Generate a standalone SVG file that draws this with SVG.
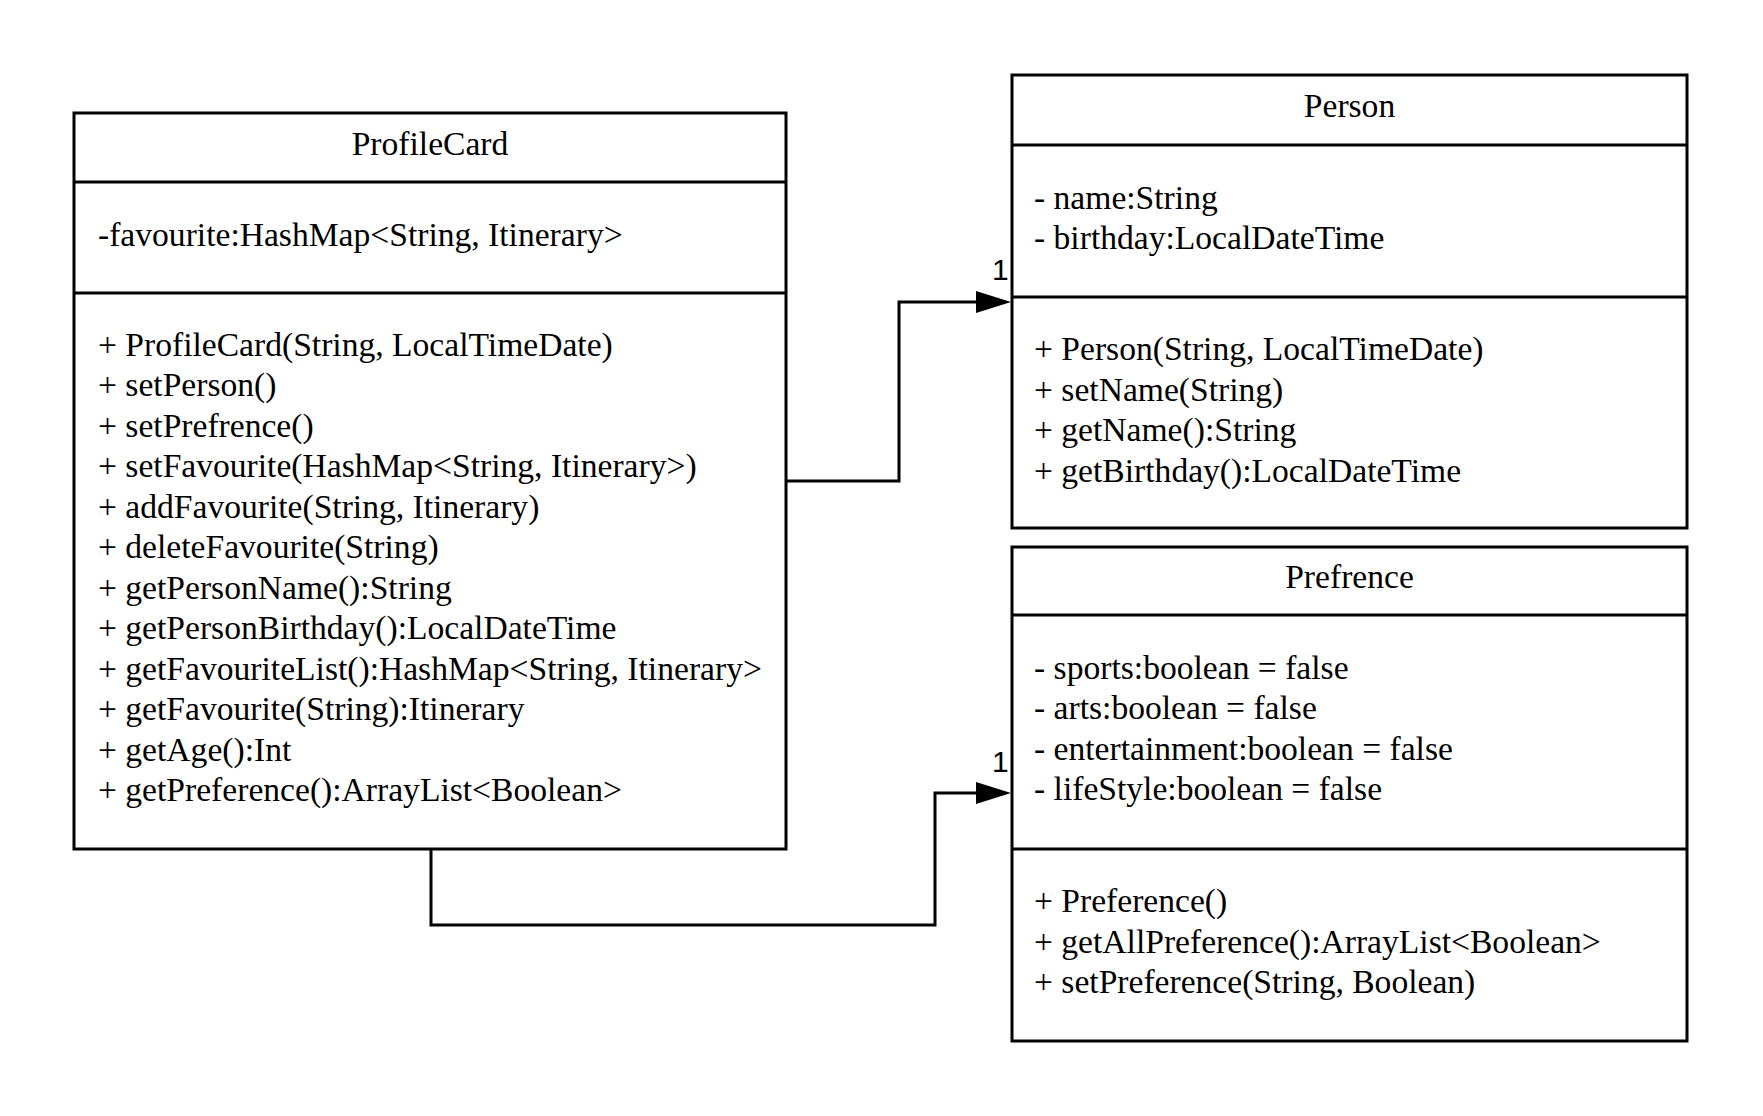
<svg xmlns="http://www.w3.org/2000/svg" width="1763" height="1116" viewBox="0 0 1763 1116">
  <style>
    .box { fill: #ffffff; stroke: #000000; stroke-width: 3; }
    .sep { stroke: #000000; stroke-width: 3; }
    .t { font-family: "Liberation Serif", "Times New Roman", serif; font-size: 33.6px; fill: #000000; }
    .title { text-anchor: middle; }
    .edge { fill: none; stroke: #000000; stroke-width: 3; }
    .mult { font-family: "Liberation Sans", Arial, sans-serif; font-size: 30px; fill: #000000; }
  </style>
  <rect width="1763" height="1116" fill="#ffffff"/>

  <g id="connectors">
    <path class="edge" d="M786,481 H899 V302 H978"/>
    <polygon points="976,291 1011,302 976,313" fill="#000000"/>
    <text class="mult" x="992" y="280">1</text>
    <path class="edge" d="M431,849 V925 H935 V793 H978"/>
    <polygon points="976,782 1011,793 976,804" fill="#000000"/>
    <text class="mult" x="992" y="772">1</text>
  </g>

  <g id="ProfileCard">
    <rect class="box" x="74" y="113" width="712" height="736"/>
    <line class="sep" x1="74" y1="182" x2="786" y2="182"/>
    <line class="sep" x1="74" y1="293" x2="786" y2="293"/>
    <text class="t title" x="430" y="155">ProfileCard</text>
    <text class="t" x="98" y="246">-favourite:HashMap&lt;String, Itinerary&gt;</text>
    <text class="t" x="98" y="355.7">+ ProfileCard(String, LocalTimeDate)</text>
    <text class="t" x="98" y="396.2">+ setPerson()</text>
    <text class="t" x="98" y="436.7">+ setPrefrence()</text>
    <text class="t" x="98" y="477.2">+ setFavourite(HashMap&lt;String, Itinerary&gt;)</text>
    <text class="t" x="98" y="517.7">+ addFavourite(String, Itinerary)</text>
    <text class="t" x="98" y="558.2">+ deleteFavourite(String)</text>
    <text class="t" x="98" y="598.7">+ getPersonName():String</text>
    <text class="t" x="98" y="639.2">+ getPersonBirthday():LocalDateTime</text>
    <text class="t" x="98" y="679.7">+ getFavouriteList():HashMap&lt;String, Itinerary&gt;</text>
    <text class="t" x="98" y="720.2">+ getFavourite(String):Itinerary</text>
    <text class="t" x="98" y="760.7">+ getAge():Int</text>
    <text class="t" x="98" y="801.2">+ getPreference():ArrayList&lt;Boolean&gt;</text>
  </g>

  <g id="Person">
    <rect class="box" x="1012" y="75" width="675" height="453"/>
    <line class="sep" x1="1012" y1="145" x2="1687" y2="145"/>
    <line class="sep" x1="1012" y1="297" x2="1687" y2="297"/>
    <text class="t title" x="1349.5" y="116.7">Person</text>
    <text class="t" x="1034" y="208.5">- name:String</text>
    <text class="t" x="1034" y="249">- birthday:LocalDateTime</text>
    <text class="t" x="1034" y="360">+ Person(String, LocalTimeDate)</text>
    <text class="t" x="1034" y="400.5">+ setName(String)</text>
    <text class="t" x="1034" y="441">+ getName():String</text>
    <text class="t" x="1034" y="481.5">+ getBirthday():LocalDateTime</text>
  </g>

  <g id="Prefrence">
    <rect class="box" x="1012" y="547" width="675" height="494"/>
    <line class="sep" x1="1012" y1="615" x2="1687" y2="615"/>
    <line class="sep" x1="1012" y1="849" x2="1687" y2="849"/>
    <text class="t title" x="1349.5" y="587.7">Prefrence</text>
    <text class="t" x="1034" y="678.7">- sports:boolean = false</text>
    <text class="t" x="1034" y="719.2">- arts:boolean = false</text>
    <text class="t" x="1034" y="759.7">- entertainment:boolean = false</text>
    <text class="t" x="1034" y="800.2">- lifeStyle:boolean = false</text>
    <text class="t" x="1034" y="912">+ Preference()</text>
    <text class="t" x="1034" y="952.5">+ getAllPreference():ArrayList&lt;Boolean&gt;</text>
    <text class="t" x="1034" y="993">+ setPreference(String, Boolean)</text>
  </g>
</svg>
